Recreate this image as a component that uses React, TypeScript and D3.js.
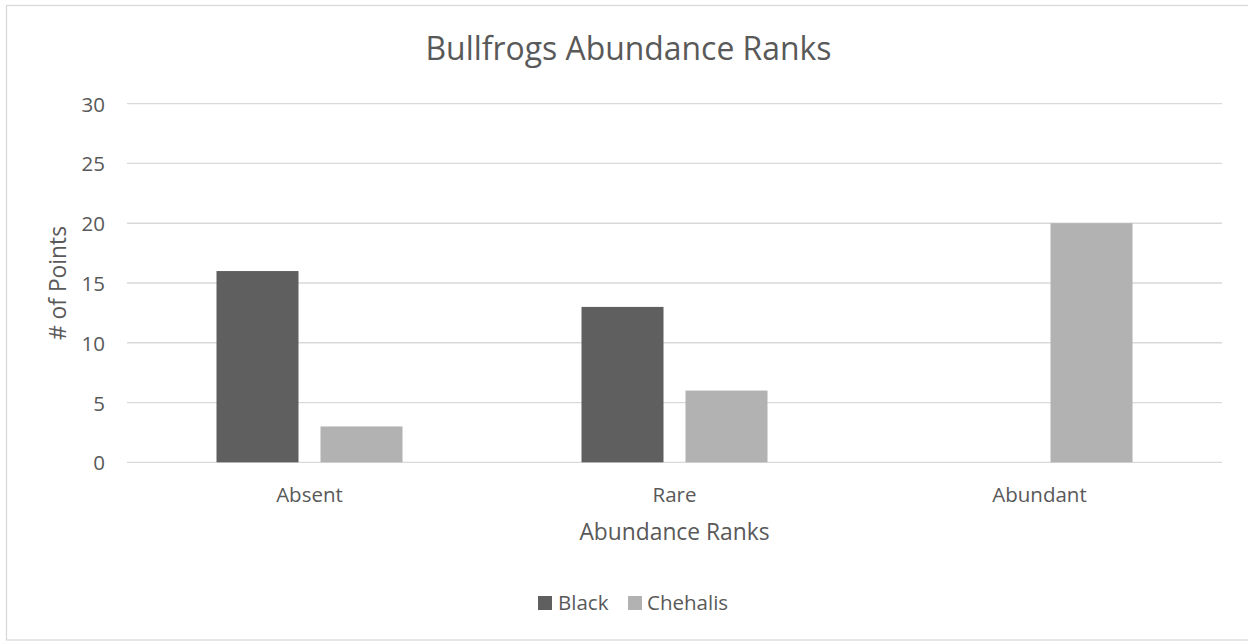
import React from "react";
import * as d3 from "d3";

const categories = ["Absent", "Rare", "Abundant"];
const seriesNames = ["Black", "Chehalis"];
const blackValues = [16, 13, 0];
const chehalisValues = [3, 6, 20];
const yTicks = [0, 5, 10, 15, 20, 25, 30];
const seriesColors = ["#5f5f5f", "#b2b2b2"];

const W = 1248;
const H = 641;
const FONT = "'Open Sans', sans-serif";
const TEXT = "#595959";

export default function App() {
  const plotLeft = 127;
  const plotRight = 1222;
  const y = d3.scaleLinear().domain([0, 30]).range([462.3, 103.7]);
  const x0 = d3.scaleBand<string>().domain(categories).range([plotLeft, plotRight]).padding(0);
  const bw = x0.bandwidth();
  const groupW = 186;
  const x1 = d3
    .scaleBand<string>()
    .domain(seriesNames)
    .range([(bw - groupW) / 2, (bw + groupW) / 2])
    .paddingInner(0.2115)
    .paddingOuter(0);
  const seriesValues = [blackValues, chehalisValues];

  return (
    <svg
      width={W}
      height={H}
      style={{ position: "absolute", left: 0, top: 0, background: "#fff" }}
      fontFamily={FONT}
    >
      <rect x={0} y={0} width={W} height={H} fill="#fff" />
      <rect x={6.5} y={5.5} width={1260} height={634.5} fill="#fff" stroke="#d9d9d9" strokeWidth={1.3} />
      <text x={628.5} y={59.5} textAnchor="middle" fontSize={31.9} fill={TEXT}>
        Bullfrogs Abundance Ranks
      </text>
      {yTicks.map((t) => (
        <g key={t}>
          <line x1={plotLeft} x2={plotRight} y1={y(t)} y2={y(t)} stroke="#d9d9d9" strokeWidth={1.3} />
          <text x={105} y={y(t) + 8} textAnchor="end" fontSize={20.5} fill={TEXT}>
            {t}
          </text>
        </g>
      ))}
      {seriesNames.map((s, si) =>
        categories.map((c, ci) => {
          const v = seriesValues[si][ci];
          if (!v) return null;
          return (
            <rect
              key={s + c}
              x={(x0(c) as number) + (x1(s) as number)}
              y={y(v)}
              width={x1.bandwidth()}
              height={y(0) - y(v)}
              fill={seriesColors[si]}
            />
          );
        })
      )}
      {categories.map((c) => (
        <text
          key={c}
          x={(x0(c) as number) + bw / 2}
          y={502}
          textAnchor="middle"
          fontSize={20.5}
          fill={TEXT}
        >
          {c}
        </text>
      ))}
      <text x={674.5} y={540} textAnchor="middle" fontSize={22.8} fill={TEXT}>
        Abundance Ranks
      </text>
      <text
        transform={`translate(66,283) rotate(-90)`}
        textAnchor="middle"
        fontSize={22.8}
        fill={TEXT}
      >
        # of Points
      </text>
      <g>
        <rect x={538} y={596} width={14} height={14} fill={seriesColors[0]} />
        <text x={558} y={610} fontSize={20.5} fill={TEXT}>
          {seriesNames[0]}
        </text>
        <rect x={628} y={596} width={14} height={14} fill={seriesColors[1]} />
        <text x={647} y={610} fontSize={20.5} fill={TEXT}>
          {seriesNames[1]}
        </text>
      </g>
    </svg>
  );
}
